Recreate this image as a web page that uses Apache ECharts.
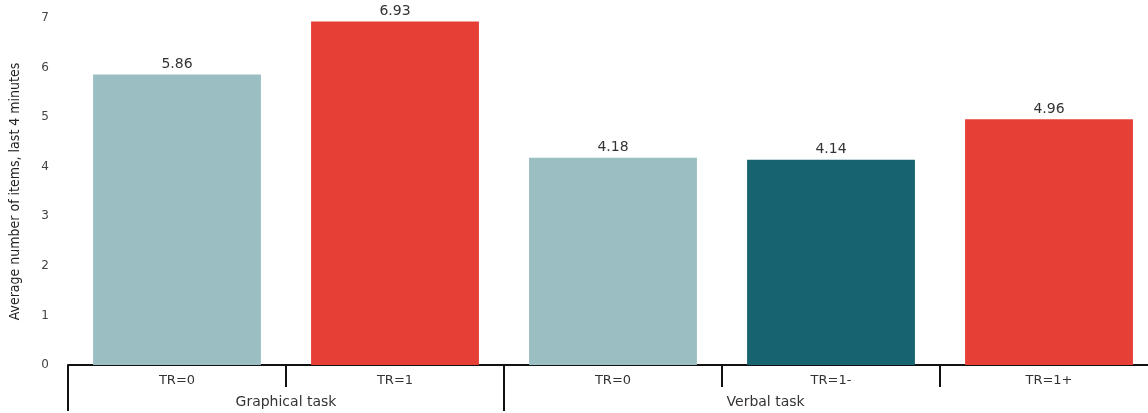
<!DOCTYPE html>
<html>
<head>
<meta charset="utf-8">
<script src="https://cdn.jsdelivr.net/npm/echarts@6/dist/echarts.min.js"></script>
<style>
  html, body { margin: 0; padding: 0; background: #fff; overflow: hidden; }
  #chart { width: 1148px; height: 413px; }
</style>
</head>
<body>
<div id="chart"></div>
<script>
// Conditions and their task groups
const conditions = ['TR=0', 'TR=1', 'TR=0', 'TR=1-', 'TR=1+'];
const groupNames = ['Graphical task', 'Verbal task'];
// Average number of items solved in the last 4 minutes
const averages = [5.86, 6.93, 4.18, 4.14, 4.96];
const yTicks = [0, 1, 2, 3, 4, 5, 6, 7];

const colorOf = {
  'TR=0': '#9bbec2',
  'TR=1': '#e63f36',
  'TR=1-': '#176470',
  'TR=1+': '#e63f36'
};

const chart = echarts.init(document.getElementById('chart'));
chart.setOption({
  animation: false,
  textStyle: { fontFamily: 'DejaVu Sans' },
  // the plot runs slightly past the right edge of the canvas
  grid: { left: 68, top: 18, bottom: 48, width: 1090, outerBoundsMode: 'none' },
  xAxis: [
    {
      type: 'category',
      data: conditions,
      axisLine: { lineStyle: { color: '#111', width: 2 } },
      axisTick: { show: true, interval: 0, length: 22, lineStyle: { color: '#111', width: 2 } },
      axisLabel: { color: '#333', fontSize: 13, margin: 9 }
    },
    {
      // group boundaries and names under the condition labels
      type: 'value',
      position: 'bottom',
      min: 0,
      max: conditions.length,
      offset: 22,
      splitLine: { show: false },
      axisLine: { show: false },
      axisTick: { show: true, customValues: [0, 2], length: 24, lineStyle: { color: '#111', width: 2 } },
      axisLabel: {
        customValues: [1, 3.2],
        color: '#333',
        fontSize: 14,
        margin: 8,
        formatter: v => (v < 2 ? groupNames[0] : groupNames[1])
      }
    }
  ],
  yAxis: {
    type: 'value',
    min: yTicks[0],
    max: yTicks[yTicks.length - 1],
    interval: 1,
    name: 'Average number of items, last 4 minutes',
    nameLocation: 'middle',
    nameGap: 46,
    nameTextStyle: {
      fontFamily: '"DejaVu Sans Condensed", "Liberation Sans Narrow", sans-serif',
      fontSize: 14,
      color: '#222'
    },
    splitLine: { show: false },
    axisLine: { show: false },
    axisTick: { show: false },
    axisLabel: { color: '#444', fontSize: 12, margin: 19 }
  },
  series: [{
    type: 'bar',
    xAxisIndex: 0,
    data: averages.map((v, i) => ({ value: v, itemStyle: { color: colorOf[conditions[i]] } })),
    barCategoryGap: '23%',
    label: {
      show: true,
      position: 'top',
      distance: 3,
      color: '#333',
      fontSize: 14,
      formatter: p => p.value.toFixed(2)
    }
  }]
});
</script>
</body>
</html>
